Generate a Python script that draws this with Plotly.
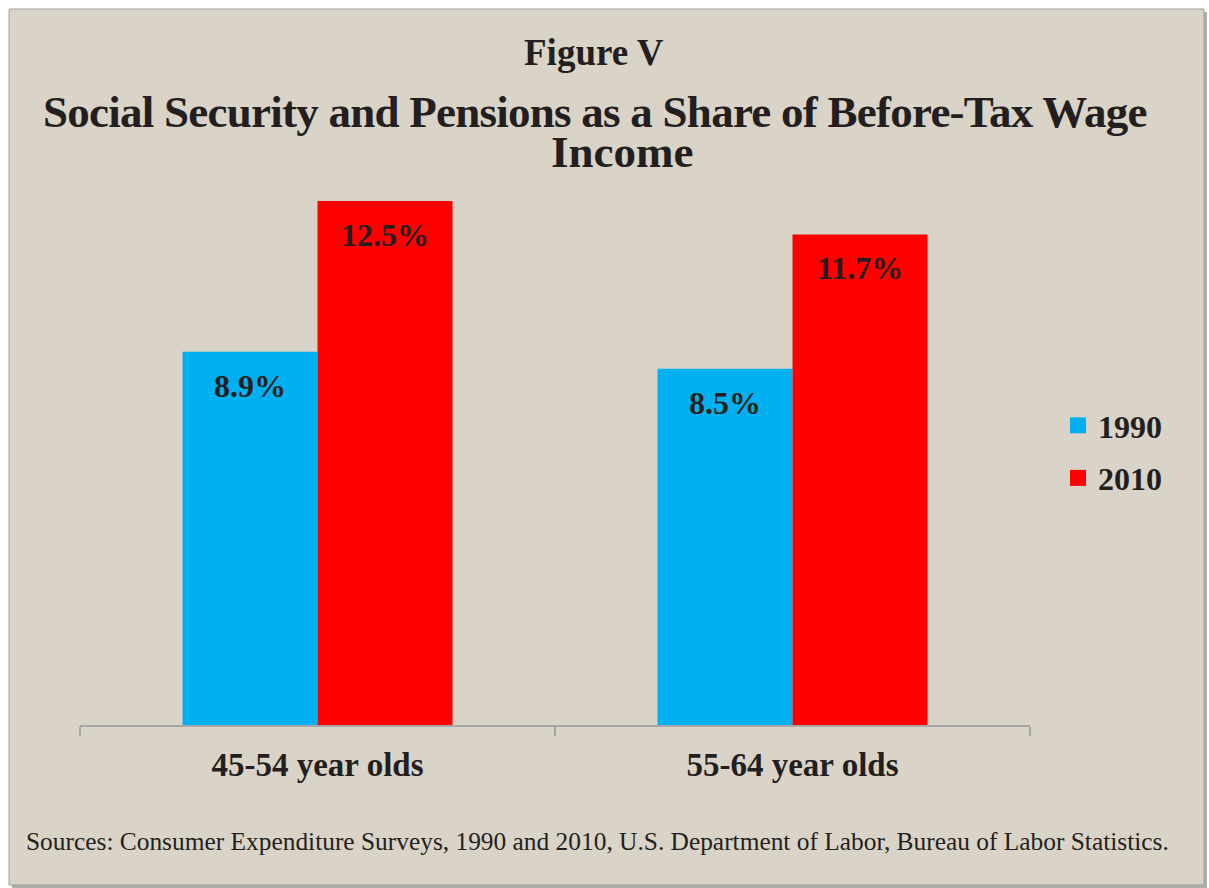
import plotly.graph_objects as go

# ---- data ----
categories = ["45-54 year olds", "55-64 year olds"]
series_names = ["1990", "2010"]
values_1990 = [8.9, 8.5]
values_2010 = [12.5, 11.7]
series_colors = ["#00B0F0", "#FF0000"]

title_top = "Figure V"
title_line1 = "Social Security and Pensions as a Share of Before-Tax Wage"
title_line2 = "Income"
source_text = ("Sources: Consumer Expenditure Surveys, 1990 and 2010, U.S. Department of Labor, "
               "Bureau of Labor Statistics.")

# ---- layout geometry ----
W, H = 1209, 888
ML, MR, MT, MB = 80, 179, 185, 163
PW, PH = W - ML - MR, H - MT - MB
YMAX = 12.88
BG = "#DAD3C7"
TXT = "#231F20"
SERIF = "Liberation Serif, Times New Roman, serif"


def px(xp):
    return (xp - ML) / PW


def py(yp):
    return (H - MB - yp) / PH


fig = go.Figure()
all_vals = [values_1990, values_2010]
for name, vals, col in zip(series_names, all_vals, series_colors):
    fig.add_trace(go.Bar(x=categories, y=vals, name=name, marker=dict(color=col, line=dict(width=0)),
                         showlegend=False, hoverinfo="skip"))

# legend entries (square swatches)
for i, (name, col) in enumerate(zip(series_names, series_colors)):
    fig.add_trace(go.Scatter(x=[None], y=[None], mode="markers", name=name, legendgroup=f"g{i}",
                             marker=dict(symbol="square", size=17, color=col)))

# bar value labels
bar_w = PW / len(categories) * (1 - 0.4316) / 2
for j, vals in enumerate(all_vals):
    shift = (j - 0.5) * bar_w
    for c, v in zip(categories, vals):
        fig.add_annotation(x=c, y=v, xref="x", yref="y", text=f"{v}%", showarrow=False,
                           xshift=shift, yshift=-34, yanchor="middle",
                           font=dict(family=SERIF, size=32, color=TXT, weight="bold"))

# titles
fig.add_annotation(x=px(594), y=py(52.5), xref="paper", yref="paper", text=title_top,
                   showarrow=False, xanchor="center", yanchor="middle",
                   font=dict(family=SERIF, size=37, color=TXT, weight="bold"))
fig.add_annotation(x=px(595), y=py(111.5), xref="paper", yref="paper",
                   text=f"<span style='letter-spacing:-0.75px'>{title_line1}</span>",
                   showarrow=False, xanchor="center", yanchor="middle",
                   font=dict(family=SERIF, size=45, color=TXT, weight="bold"))
fig.add_annotation(x=px(622), y=py(152), xref="paper", yref="paper", text=title_line2,
                   showarrow=False, xanchor="center", yanchor="middle",
                   font=dict(family=SERIF, size=45, color=TXT, weight="bold"))
fig.add_annotation(x=px(597.5), y=py(841), xref="paper", yref="paper", text=source_text,
                   showarrow=False, xanchor="center", yanchor="middle",
                   font=dict(family=SERIF, size=25.4, color=TXT))

# background box with shadow
fig.add_shape(type="rect", xref="paper", yref="paper", layer="below",
              x0=px(12), x1=px(1207), y0=py(888), y1=py(12),
              fillcolor="#AFAFAF", line=dict(width=0))
fig.add_shape(type="rect", xref="paper", yref="paper", layer="below",
              x0=px(9), x1=px(1204), y0=py(885), y1=py(9),
              fillcolor=BG, line=dict(color="#A0A0A0", width=1))

fig.update_layout(
    width=W, height=H,
    margin=dict(l=ML, r=MR, t=MT, b=MB),
    paper_bgcolor="white", plot_bgcolor="rgba(0,0,0,0)",
    barmode="group", bargap=0.4316, bargroupgap=0,
    legend=dict(x=px(1058), y=py(452), xanchor="left", yanchor="middle",
                traceorder="grouped", tracegroupgap=8, bgcolor="rgba(0,0,0,0)",
                font=dict(family=SERIF, size=32, color=TXT, weight="bold")),
    xaxis=dict(type="category", categoryorder="array", categoryarray=categories,
               range=[-0.5, len(categories) - 0.5], showline=True, linecolor="#A6A6A6", linewidth=2,
               ticks="outside", tickson="boundaries", ticklen=9, tickwidth=2, tickcolor="#A6A6A6",
               showgrid=False, zeroline=False, ticklabelstandoff=9,
               tickfont=dict(family=SERIF, size=33, color=TXT, weight="bold")),
    yaxis=dict(range=[0, YMAX], visible=False, showgrid=False, zeroline=False),
)

fig.write_html("out.html")
